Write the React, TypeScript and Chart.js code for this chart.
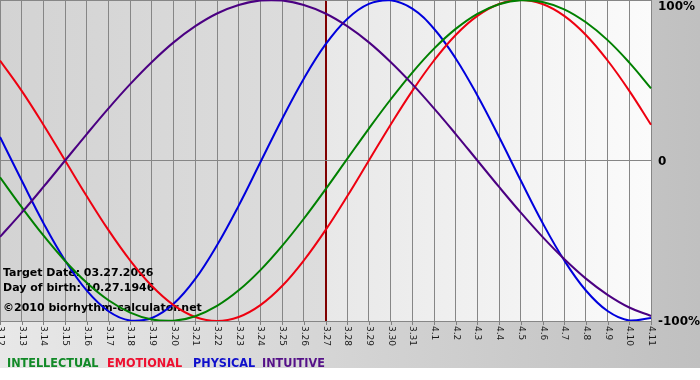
import { useEffect, useRef } from "react";
import { Chart, registerables } from "chart.js";

Chart.register(...registerables);

const dates = [
  "3.12", "3.13", "3.14", "3.15", "3.16", "3.17", "3.18", "3.19", "3.20", "3.21",
  "3.22", "3.23", "3.24", "3.25", "3.26", "3.27", "3.28", "3.29", "3.30", "3.31",
  "4.1", "4.2", "4.3", "4.4", "4.5", "4.6", "4.7", "4.8", "4.9", "4.10", "4.11",
];

const intellectual = [
  -10.5, -29.1, -46.7, -62.6, -76.2, -87.1, -94.8, -99.1, -99.8, -97.0,
  -90.6, -80.9, -68.3, -53.2, -36.3, -18.0, 1.0, 19.9, 38.0, 54.8,
  69.7, 82.0, 91.4, 97.4, 99.9, 98.8, 94.2, 86.1, 75.0, 61.0, 45.0,
];

const emotional = [
  62.3, 43.4, 22.3, 0, -22.3, -43.4, -62.3, -78.2, -90.1, -97.5,
  -100, -97.5, -90.1, -78.2, -62.3, -43.4, -22.3, 0, 22.3, 43.4,
  62.3, 78.2, 90.1, 97.5, 100, 97.5, 90.1, 78.2, 62.3, 43.4, 22.3,
];

const physical = [
  14.7, -12.5, -38.9, -62.3, -81.1, -93.9, -99.7, -98.1, -89.3, -73.8,
  -52.8, -28.1, -1.1, 25.9, 51.0, 72.3, 88.2, 97.6, 99.8, 94.6,
  82.1, 63.6, 40.5, 14.6, -12.5, -38.8, -62.2, -81.0, -93.8, -99.7, -98.1,
];

const intuitive = [
  -47.6, -32.5, -16.5, 0, 16.5, 32.5, 47.6, 61.4, 73.6, 83.7,
  91.6, 96.9, 99.7, 99.7, 96.9, 91.6, 83.7, 73.6, 61.4, 47.6,
  32.5, 16.5, 0, -16.5, -32.5, -47.6, -61.4, -73.6, -83.7, -91.6, -96.9,
];

const yTickValues = [100, 0, -100];
const yTickText = ["100%", "0", "-100%"];
const targetDate = "3.27";
const infoLines = [
  "Target Date: 03.27.2026",
  "Day of birth: 10.27.1946",
  "\u00A92010 biorhythm-calculator.net",
];
const seriesNames = ["INTELLECTUAL", "EMOTIONAL", "PHYSICAL", "INTUITIVE"];
const seriesColors = ["#008000", "#ee0010", "#0000dd", "#4b0082"];
const legendColors = ["#128a28", "#ee1030", "#1010cc", "#551188"];

const W = 700;
const H = 380;

const decorPlugin = {
  id: "decor",
  beforeDraw(chart: any) {
    const { ctx, chartArea: a } = chart;
    const xs = chart.scales.x;
    ctx.save();
    ctx.fillStyle = "#ffffff";
    ctx.fillRect(0, 0, W, H);
    const g = ctx.createLinearGradient(0, 0, W, 0);
    g.addColorStop(0, "#e8e8e8");
    g.addColorStop(1, "#c0c0c0");
    ctx.fillStyle = g;
    ctx.fillRect(0, 0, W, 368);
    const tx = xs.getPixelForValue(dates.indexOf(targetDate));
    const g1 = ctx.createLinearGradient(a.left, 0, tx, 0);
    g1.addColorStop(0, "#d3d3d3");
    g1.addColorStop(1, "#dddddd");
    ctx.fillStyle = g1;
    ctx.fillRect(a.left, a.top, tx - a.left, a.bottom - a.top);
    const g2 = ctx.createLinearGradient(tx, 0, a.right, 0);
    g2.addColorStop(0, "#e8e8e8");
    g2.addColorStop(1, "#fbfbfb");
    ctx.fillStyle = g2;
    ctx.fillRect(tx, a.top, a.right - tx, a.bottom - a.top);
    ctx.restore();
  },
  beforeDatasetsDraw(chart: any) {
    const { ctx } = chart;
    ctx.save();
    ctx.fillStyle = "#000000";
    ctx.textAlign = "left";
    ctx.textBaseline = "alphabetic";
    ctx.font = "bold 11px 'DejaVu Sans', sans-serif";
    const baselines = [276, 291, 311];
    infoLines.forEach((t, i) => ctx.fillText(t, 3, baselines[i]));
    ctx.restore();
  },
  afterDraw(chart: any) {
    const { ctx, chartArea: a } = chart;
    const xs = chart.scales.x;
    const ys = chart.scales.y;
    ctx.save();
    // x tick marks and rotated labels
    ctx.strokeStyle = "#808080";
    ctx.lineWidth = 1;
    ctx.fillStyle = "#1a1a1a";
    ctx.font = "9px 'DejaVu Sans', sans-serif";
    ctx.textAlign = "left";
    ctx.textBaseline = "middle";
    dates.forEach((d, i) => {
      const x = Math.round(xs.getPixelForValue(i)) + 0.5;
      ctx.beginPath();
      ctx.moveTo(x, a.bottom);
      ctx.lineTo(x, a.bottom + 4);
      ctx.stroke();
      ctx.save();
      ctx.translate(x, a.bottom + 5);
      ctx.rotate(Math.PI / 2);
      ctx.fillText(d, 0, 0);
      ctx.restore();
    });
    // y labels on the right
    ctx.fillStyle = "#000000";
    ctx.font = "bold 12px 'DejaVu Sans', sans-serif";
    ctx.textBaseline = "middle";
    yTickValues.forEach((v, i) => {
      let y = ys.getPixelForValue(v) + 1;
      if (y < 7) y = 7;
      ctx.fillText(yTickText[i], a.right + 7, y);
    });
    // legend
    ctx.font = "bold 12.5px 'DejaVu Sans Condensed', 'DejaVu Sans', sans-serif";
    ctx.textBaseline = "alphabetic";
    const lx = [7, 107, 193, 262];
    seriesNames.forEach((n, i) => {
      ctx.fillStyle = legendColors[i];
      ctx.fillText(n, lx[i], 367);
    });
    ctx.restore();
  },
};

export default function App() {
  const ref = useRef<HTMLCanvasElement>(null);
  useEffect(() => {
    if (!ref.current) return;
    const mk = (label: string, data: number[], color: string) => ({
      label,
      data,
      borderColor: color,
      backgroundColor: color,
      borderWidth: 2,
      pointRadius: 0,
      tension: 0.4,
      fill: false,
    });
    const chart = new Chart(ref.current, {
      type: "line",
      data: {
        labels: dates,
        datasets: [
          mk(seriesNames[3], intuitive, seriesColors[3]),
          mk(seriesNames[0], intellectual, seriesColors[0]),
          mk(seriesNames[1], emotional, seriesColors[1]),
          mk(seriesNames[2], physical, seriesColors[2]),
        ],
      },
      options: {
        animation: false,
        responsive: false,
        devicePixelRatio: 1,
        layout: { padding: 0 },
        plugins: { legend: { display: false }, tooltip: { enabled: false } },
        scales: {
          x: {
            type: "category",
            offset: false,
            ticks: { display: false },
            grid: {
              drawTicks: false,
              color: (c: any) => (dates[c.index] === targetDate ? "#800000" : "#868686"),
              lineWidth: (c: any) => (dates[c.index] === targetDate ? 2 : 1),
            },
            border: { display: true, color: "#868686" },
            afterFit: (s: any) => {
              s.height = 59;
            },
          },
          y: {
            position: "right",
            min: -100,
            max: 100,
            ticks: { display: false, stepSize: 100 },
            grid: { drawTicks: false, color: "#868686" },
            border: { display: true, color: "#868686" },
            afterFit: (s: any) => {
              s.width = 49;
            },
          },
        },
      },
      plugins: [decorPlugin],
    } as any);
    return () => chart.destroy();
  }, []);
  return (
    <div style={{ position: "absolute", left: 0, top: 0, width: W, height: H }}>
      <canvas ref={ref} width={W} height={H} style={{ display: "block" }} />
    </div>
  );
}
